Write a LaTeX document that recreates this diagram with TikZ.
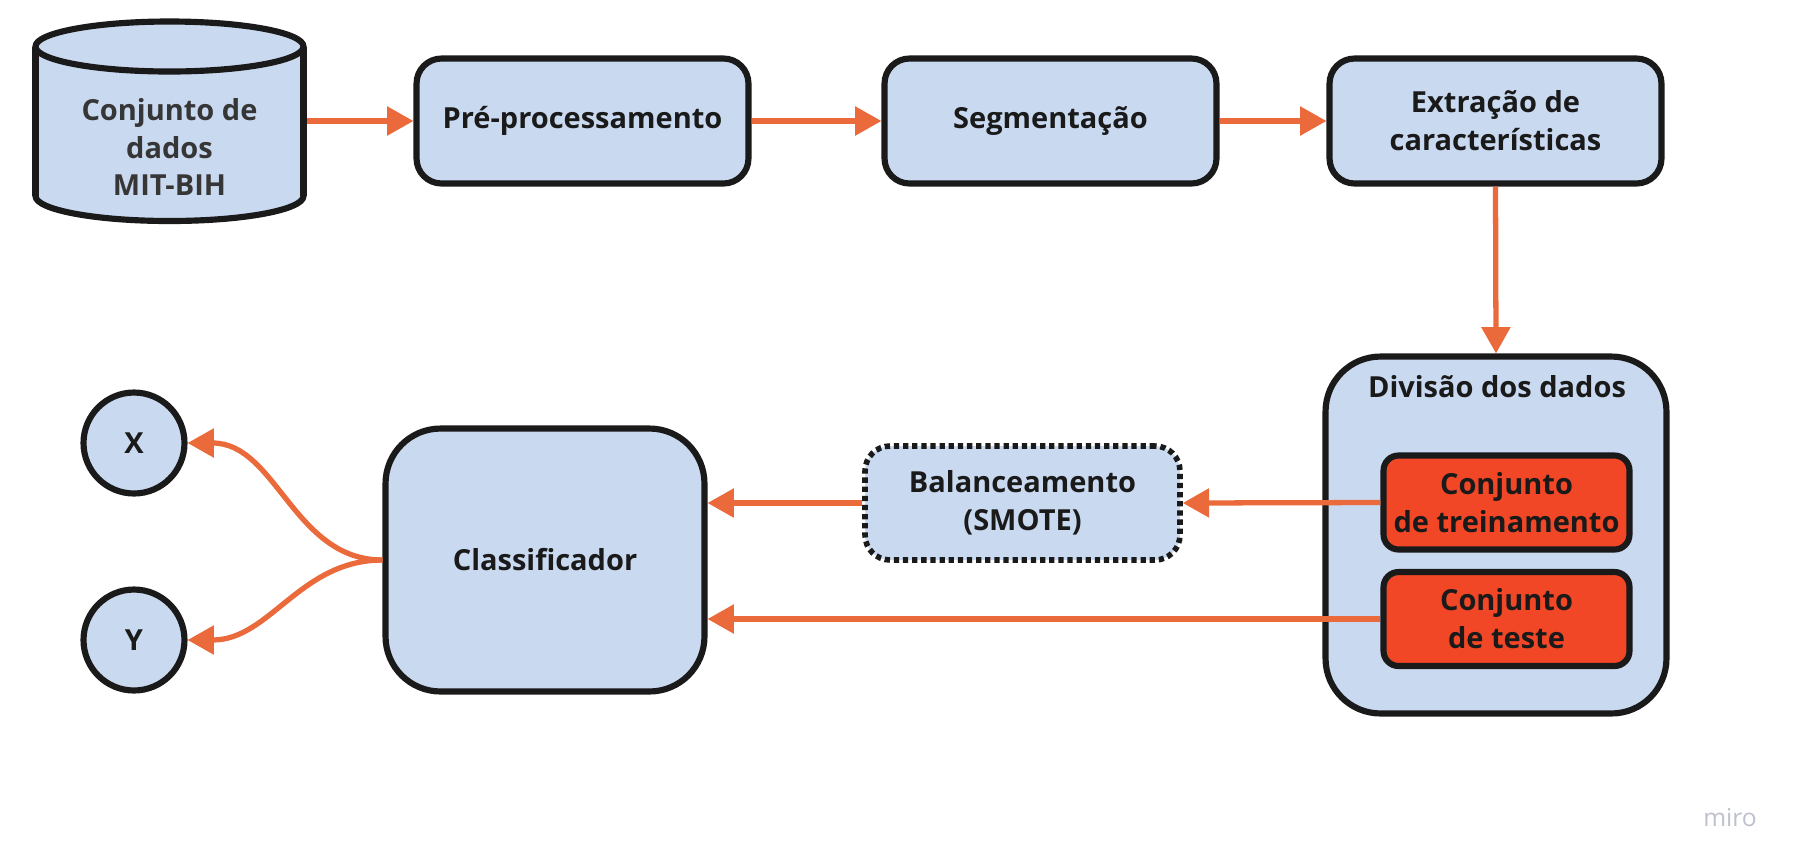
\documentclass[tikz,border=0pt]{standalone}
\usepackage{fontspec}
\setmainfont{Open Sans}
\usepackage{tikz}
\usetikzlibrary{arrows.meta}
\usetikzlibrary{positioning}
\definecolor{boxblue}{HTML}{C9D9F0}
\definecolor{boxred}{HTML}{F24726}
\definecolor{arroworange}{HTML}{EB6A3C}
\definecolor{linedark}{HTML}{1A1A1A}
\definecolor{dbtext}{HTML}{363636}
\definecolor{mirogray}{HTML}{BEC1CC}
\newcommand{\stagefont}{\fontsize{16.5}{21.6}\selectfont\bfseries}
\tikzset{
	stage/.style={draw=linedark, line width=3.5pt, fill=boxblue, rounded corners=0.5cm,
		align=center, font=\stagefont, text=linedark},
	subset/.style={stage, fill=boxred, rounded corners=0.3cm, minimum width=4.96cm, minimum height=1.92cm},
	terminal/.style={draw=linedark, line width=3.5pt, fill=boxblue, circle, minimum size=2.02cm,
		inner sep=0pt, font=\stagefont, text=linedark},
	dbline/.style={draw=linedark, line width=3.5pt, fill=boxblue},
	flow/.style={color=arroworange, line width=3pt, -{Triangle[length=15pt,width=16pt]}},
}

\begin{document}
\begin{tikzpicture}[x=0.02cm, y=-0.02cm]

	\useasboundingbox (0,0) rectangle (1801,867);

	% database cylinder
	\draw[dbline] (169.5,196) ellipse (134 and 25);
	\fill[boxblue] (35.5,46.5) rectangle (303.5,196);
	\draw[linedark, line width=3.5pt] (35.5,46.5) -- (35.5,196);
	\draw[linedark, line width=3.5pt] (303.5,46.5) -- (303.5,196);
	\draw[dbline] (169.5,46.5) ellipse (134 and 25);
	\node[minimum width=5.36cm, minimum height=4cm, inner sep=0pt, outer sep=1.75pt] (db) at (169.5,121) {};
	\node[font=\stagefont, text=dbtext, align=center] (dblabel) at (169.5,147) {Conjunto de\\dados\\MIT-BIH};

	% top row
	\node[stage, minimum width=6.64cm, minimum height=2.5cm] (pre) at (582.5,121) {Pré-processamento};
	\node[stage, minimum width=6.64cm, minimum height=2.5cm] (seg) at (1050.5,121) {Segmentação};
	\node[stage, minimum width=6.64cm, minimum height=2.5cm] (extr) at (1495.5,121) {Extração de\\características};

	% data split
	\node[stage, rounded corners=1.1cm, minimum width=6.82cm, minimum height=7.14cm] (div) at (1496,535) {};
	\node[font=\stagefont, text=linedark] (divtitle) at (1497,387) {Divisão dos dados};
	\node[subset, minimum width=4.92cm, minimum height=1.88cm] (trein) at (1506.5,502.5) {Conjunto\\de treinamento};
	\node[subset, minimum width=4.92cm, minimum height=1.88cm] (teste) at (1506.5,619) {Conjunto\\de teste};

	% balancing and classifier
	\node[stage, dash pattern=on 3pt off 2.2pt, line width=3.2pt, minimum width=6.3cm, minimum height=2.28cm] (bal) at (1022.5,503) {Balanceamento\\(SMOTE)};
	\node[stage, rounded corners=1.1cm, minimum width=6.38cm, minimum height=5.26cm] (cls) at (545,560) {Classificador};

	% outputs
	\node[terminal] (x) at (134,443) {X};
	\node[terminal] (y) at (134,640) {Y};

	% connectors
	\draw[flow] (db.east) -- (pre.west);
	\draw[flow] (pre.east) -- (seg.west);
	\draw[flow] (seg.east) -- (extr.west);
	\draw[flow] (extr.south) -- (div.north);
	\draw[flow] (trein.west) -- (bal.east);
	\draw[flow] (bal.west) -- (bal.west -| cls.east);
	\draw[flow] (teste.west) -- (teste.west -| cls.east);
	\draw[flow] (cls.west) to[out=180, in=0] (x.east);
	\draw[flow] (cls.west) to[out=180, in=0] (y.east);

	\node[font=\fontsize{14}{16}\selectfont, text=mirogray] (miro) at (1730,818) {miro};

\end{tikzpicture}
\end{document}
